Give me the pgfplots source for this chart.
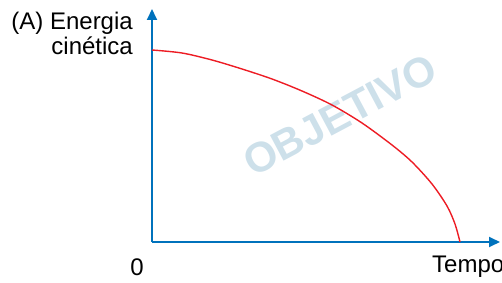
\documentclass[border=0pt]{standalone}
\usepackage{pgfplots}
\pgfplotsset{compat=1.18}
\usepackage{fontspec}
\setmainfont{Liberation Sans}
\usetikzlibrary{arrows.meta}
\definecolor{axblue}{RGB}{0,114,188}
\definecolor{curvered}{RGB}{237,28,36}
\definecolor{wm}{RGB}{205,224,234}
\begin{document}
\begin{tikzpicture}[x=1pt,y=1pt]
\useasboundingbox (0,0) rectangle (502,283);
\node[font=\bfseries\fontsize{42}{42}\selectfont, text=wm, rotate=28, inner sep=0pt] at (340,168) {OBJETIVO};
\begin{axis}[
  at={(152pt,41pt)}, anchor=origin,
  scale only axis, width=348pt, height=233pt,
  xmin=0, xmax=348, ymin=0, ymax=233,
  axis lines=left,
  axis line style={line width=1.8pt, color=axblue, -{Triangle[length=11pt,width=10pt]}},
  xtick=\empty, ytick=\empty,
  clip=false,
]
\addplot[curvered, line width=1.4pt, smooth] coordinates {
(0,192) (30,189) (60,182) (90,173) (120,163) (150,151) (180,137) (210,119)
(240,97) (260,80) (280,58) (295,36) (303,18) (308,0)
};
\end{axis}
\node[anchor=base east, font=\fontsize{24}{24}\selectfont, inner sep=0pt] at (133,253) {(A) Energia};
\node[anchor=base east, font=\fontsize{24}{24}\selectfont, inner sep=0pt] at (133,228) {cinética};
\node[anchor=base, font=\fontsize{24}{24}\selectfont, inner sep=0pt] at (137,7) {0};
\node[anchor=base west, font=\fontsize{24}{24}\selectfont, inner sep=0pt] at (432,10) {Tempo};
\end{tikzpicture}
\end{document}
